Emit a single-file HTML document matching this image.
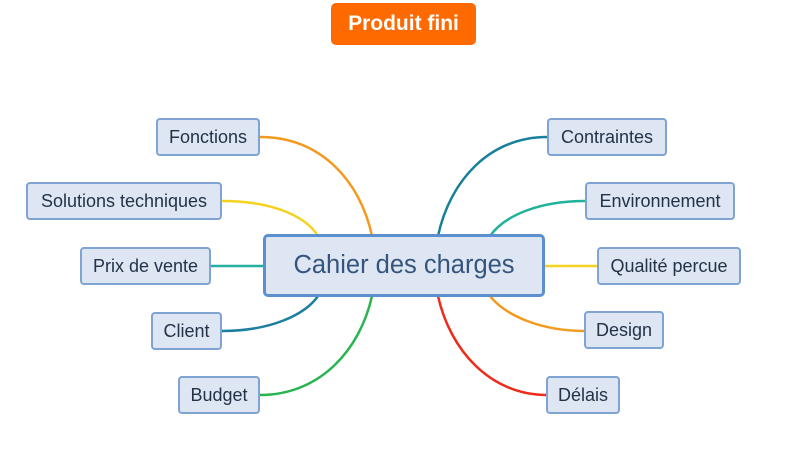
<!DOCTYPE html>
<html><head><meta charset="utf-8"><style>
body{margin:0;width:795px;height:460px;background:#fff;position:relative;overflow:hidden;font-family:"Liberation Sans",sans-serif}
.n{position:absolute;box-sizing:border-box;height:38px;border:2px solid #7fa3d3;border-radius:4px;background:#dde6f2;color:#243248;font-size:18px;display:flex;align-items:center;justify-content:center;white-space:nowrap}
svg{position:absolute;left:0;top:0}
</style></head><body>
<svg width="795" height="460">
<g fill="none" stroke-linecap="round">
<path d="M260 137 C320 137 360 180 372 236" stroke="#f39a1e" stroke-width="2.5"/>
<path d="M222 201 C270 201 305 215 318 236" stroke="#f5d21f" stroke-width="2.5"/>
<path d="M211 266 L265 266" stroke="#23b0a0" stroke-width="2.5"/>
<path d="M222 331 C270 331 305 315 318 296" stroke="#1c7fa0" stroke-width="2.5"/>
<path d="M260 395 C320 395 360 350 372 296" stroke="#28b550" stroke-width="2.5"/>
<path d="M547 137 C490 137 450 180 438 236" stroke="#18809a" stroke-width="2.5"/>
<path d="M585 201 C540 201 505 215 490 236" stroke="#20b29a" stroke-width="2.5"/>
<path d="M597 266 L543 266" stroke="#f5d21f" stroke-width="2.5"/>
<path d="M585 331 C540 331 505 315 490 296" stroke="#f39a1e" stroke-width="2.5"/>
<path d="M547 395 C490 395 450 350 438 296" stroke="#ee2a1a" stroke-width="2.5"/>
</g></svg>
<div class="n" style="left:331px;top:3px;width:145px;height:42px;background:#ff6a00;border:none;border-radius:5px;color:#fff;font-weight:bold;font-size:21px">Produit fini</div>
<div class="n" style="left:263px;top:234px;width:282px;height:63px;border:3px solid #5b8fd0;border-radius:5px;font-size:25.5px;color:#35557f">Cahier des charges</div>
<div class="n" style="left:156px;top:118px;width:104px">Fonctions</div>
<div class="n" style="left:26px;top:182px;width:196px">Solutions techniques</div>
<div class="n" style="left:80px;top:247px;width:131px">Prix de vente</div>
<div class="n" style="left:151px;top:312px;width:71px">Client</div>
<div class="n" style="left:178px;top:376px;width:82px">Budget</div>
<div class="n" style="left:547px;top:118px;width:120px">Contraintes</div>
<div class="n" style="left:585px;top:182px;width:150px">Environnement</div>
<div class="n" style="left:597px;top:247px;width:144px">Qualité percue</div>
<div class="n" style="left:584px;top:311px;width:80px">Design</div>
<div class="n" style="left:546px;top:376px;width:74px">Délais</div>
</body></html>
